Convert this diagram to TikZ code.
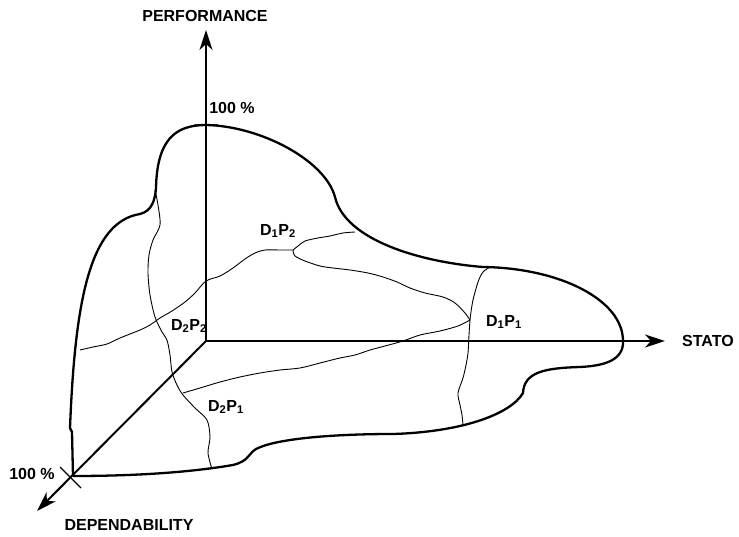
\documentclass[tikz,border=0pt]{standalone}
\usepackage{fontspec}
\setmainfont{Liberation Sans}
\usetikzlibrary{arrows.meta}
\begin{document}
\begin{tikzpicture}[x=1pt,y=-1pt,
  axis/.style={line width=2pt,-{Stealth[length=20pt,width=13pt,inset=6pt]}},
  outline/.style={line width=2.3pt,line join=round},
  thin/.style={line width=0.9pt,line join=round},
  tick/.style={line width=1.2pt},
  lbl/.style={font=\fontsize{16}{19}\selectfont\bfseries,inner sep=0pt},
]
\useasboundingbox (0,0) rectangle (739,537);

% axes
\coordinate (O) at (206,341);
\coordinate (Ptip) at (206,30);
\coordinate (Stip) at (665,341);
\coordinate (Dtip) at (37,511);
\draw[axis] (O) -- (Ptip);
\draw[axis] (O) -- (Stip);
\draw[axis] (O) -- (Dtip);

% 100 % ticks
\coordinate (tA) at (194,125);
\coordinate (tB) at (218,125);
\draw[tick,gray!70!black] (tA) -- (tB);
\coordinate (tC) at (60,467);
\coordinate (tD) at (81,488);
\draw[tick] (tC) -- (tD);

% outer surface
\draw[outline]
  (206,125) .. controls (260,126) and (325,160) .. (335,197)
  .. controls (345,240) and (420,262) .. (483,267)
  .. controls (560,268) and (623,300) .. (623,341)
  .. controls (624,362) and (600,366) .. (580,367)
  .. controls (545,368) and (524,372) .. (523,393)
  .. controls (510,415) and (460,432) .. (393,434)
  .. controls (330,434) and (275,439) .. (256,449)
  .. controls (248,454) and (249,461) .. (233,465)
  .. controls (180,474) and (120,476) .. (73,476)
  -- (72,432) -- (70,428)
  .. controls (75,300) and (90,222) .. (140,214)
  .. controls (152,211) and (155,200) .. (156,188)
  .. controls (157,140) and (175,125) .. (206,125) -- cycle;

% performance level P2
\draw[thin] plot[smooth,tension=0.5] coordinates {
  (80,350) (93,347) (107,344) (120,338) (140,330) (150,325) (160,318)
  (172,311) (185,302) (195,293) (206,281) (220,276) (233,268) (245,259)
  (255,253) (265,250) (280,250) (293,250)
};
\draw[thin] plot[smooth,tension=0.5] coordinates {
  (293,250) (298,246) (305,241) (318,238) (330,236) (343,233) (355,232)
};
\draw[thin] plot[smooth,tension=0.5] coordinates {
  (293,250) (295,256) (305,261) (320,266) (333,268) (350,270) (368,273)
  (383,277) (397,282) (410,288) (425,293) (443,297) (455,303) (465,313)
  (470,320)
};
% performance level P1
\draw[thin] plot[smooth,tension=0.5] coordinates {
  (470,320) (458,326) (440,331) (420,335) (403,341) (385,346) (370,350)
  (355,355) (340,358) (320,363) (300,368) (280,370) (260,373) (240,377)
  (220,382) (200,388) (183,393)
};
% dependability level D2
\draw[thin] plot[smooth,tension=0.5] coordinates {
  (155,190) (158,205) (160,225) (153,240) (149,255) (148,273) (150,295)
  (155,317) (162,332) (167,340) (170,355) (172,372) (177,385) (183,395)
  (195,408) (207,420) (210,437) (208,453) (212,469)
};
% dependability level D1
\draw[thin] plot[smooth,tension=0.5] coordinates {
  (490,267) (483,272) (478,282) (473,300) (471,312) (470,320) (469,335)
  (468,353) (466,365) (463,378) (458,393) (460,405) (462,415) (463,425)
};

% labels
\node[lbl] (perf) at (205,16) {PERFORMANCE};
\node[lbl] (stato) at (708,341) {STATO};
\node[lbl] (dep) at (129,525) {DEPENDABILITY};
\node[lbl] (cP) at (232,108) {100 \%};
\node[lbl] (cD) at (32,474) {100 \%};
\node[lbl] (d1p2) at (278,231) {D\textsubscript{1}P\textsubscript{2}};
\node[lbl] (d2p2) at (189,326) {D\textsubscript{2}P\textsubscript{2}};
\node[lbl] (d2p1) at (226,407) {D\textsubscript{2}P\textsubscript{1}};
\node[lbl] (d1p1) at (504,322) {D\textsubscript{1}P\textsubscript{1}};
\end{tikzpicture}
\end{document}
